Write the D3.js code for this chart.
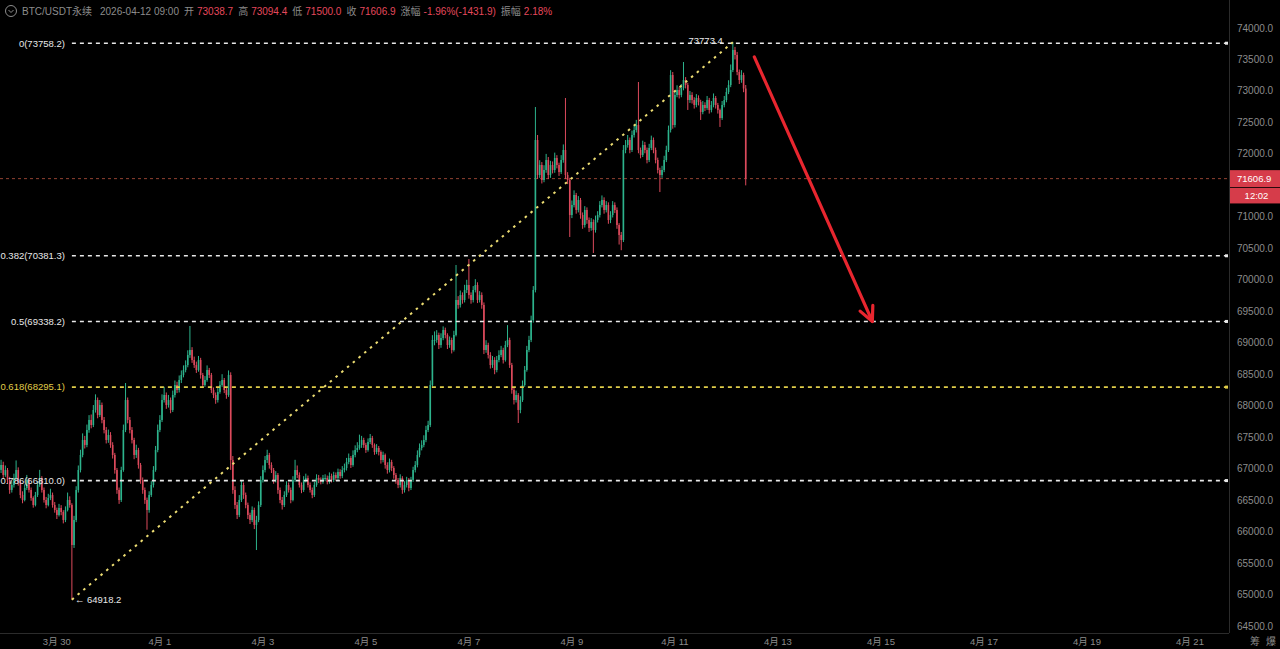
<!DOCTYPE html>
<html lang="zh">
<head>
<meta charset="utf-8">
<title>BTC/USDT永续 1h</title>
<script src="https://cdn.jsdelivr.net/npm/d3@7"></script>
<style>
  html, body { margin: 0; padding: 0; background: #000; }
  svg { display: block; }
  text { font-family: "Liberation Sans", "Noto Sans CJK SC", sans-serif; }
</style>
</head>
<body>
<script>
const W = 1280, H = 649;

// hourly candles, the first one opens 2026-03-28 22:00, open = previous close
const firstCandle = new Date(2026, 2, 28, 22, 0);
const firstOpen = 66980;

const closes = [
  67058,66899,66978,66819,66661,66740,66851,66978,66788,66581,
  66502,66692,66819,66661,66534,66422,66581,66740,66851,66661,
  66502,66422,66534,66581,66422,66343,66264,66375,66311,66184,
  66343,66502,66422,65787,66184,66661,66978,67217,67455,67376,
  67614,67773,67693,67932,68090,67852,68011,67773,67614,67455,
  67534,67376,67217,66978,66661,66502,66978,67614,68090,67773,
  67614,67455,67217,67296,67058,66819,66661,66502,66343,66581,
  66740,66978,67296,67614,67773,68090,68170,68011,68090,67932,
  68170,68329,68249,68408,68488,68567,68646,68805,68885,68726,
  68646,68567,68726,68488,68329,68408,68567,68488,68249,68170,
  68090,68218,68329,68408,68249,68170,68488,67137,66661,66422,
  66264,66502,66740,66581,66422,66264,66184,66343,66105,66184,
  66422,66819,66978,67137,67217,67058,66978,66819,66899,66661,
  66502,66422,66581,66740,66661,66502,66819,66978,66899,66740,
  66661,66819,66851,66740,66661,66581,66740,66851,66819,66788,
  66851,66851,66788,66883,66819,66899,66851,66947,66883,66978,
  67010,67105,67169,67058,67217,67296,67328,67376,67455,67376,
  67296,67423,67487,67376,67264,67328,67264,67137,67217,67058,
  66978,67105,67010,66899,66819,66740,66851,66661,66740,66819,
  66692,66819,66978,67058,67217,67328,67376,67455,67614,67693,
  68329,69044,69044,69123,68964,69075,69202,69123,68964,69044,
  68885,69123,69679,69600,69758,69679,69838,69917,69758,69679,
  69838,69917,69679,69758,69600,68885,68964,68805,68646,68726,
  68567,68726,68805,68885,68726,68964,69044,68646,68249,68090,
  68170,67932,68090,68329,68567,68885,69044,69361,69838,72221,
  71665,71824,71585,71744,71903,71665,71824,71744,71935,71824,
  71712,71903,72062,71665,71585,71029,71188,71347,71109,71268,
  71029,70870,71109,70950,70823,70918,70791,70950,71029,71188,
  71268,71109,71188,70950,71029,71188,71109,70870,70712,70632,
  72062,72141,72221,72062,72300,72380,72459,72062,71983,72141,
  72062,71903,72094,72221,72062,71903,71744,71665,71744,71903,
  72062,72380,73253,72459,72936,73015,72936,73047,73174,73094,
  72856,72936,72856,72777,72888,72824,72666,72777,72729,72856,
  72697,72777,72888,72777,72697,72570,72777,72856,72983,73094,
  73333,73651,73571,73301,73174,73253,73038.7,71606.9
];

const highs = [
  67140,67110,67050,67010,66870,66800,66920,67130,67020,66820,
  66640,66750,66900,66850,66700,66560,66630,66800,66980,66880,
  66700,66550,66600,66680,66620,66470,66380,66440,66420,66340,
  66400,66620,66560,66450,66250,66720,67050,67300,67560,67520,
  67700,67850,67860,68010,68180,68130,68090,68050,67820,67660,
  67620,67580,67420,67250,67010,66700,67030,67700,68360,68130,
  67820,67660,67490,67380,67330,67090,66860,66700,66540,66640,
  66800,67040,67360,67700,67850,68180,68300,68210,68170,68130,
  68240,68400,68380,68480,68560,68640,68720,68880,69266,68930,
  68780,68700,68790,68760,68520,68470,68640,68600,68520,68290,
  68210,68280,68390,68500,68440,68280,68560,68530,67200,66720,
  66470,66580,66810,66780,66620,66460,66300,66400,66380,66250,
  66480,66880,67050,67200,67300,67250,67100,67010,66960,66930,
  66700,66550,66640,66800,66780,66700,66880,67140,67050,66940,
  66780,66880,66920,66890,66780,66700,66790,66910,66900,66860,
  66900,66910,66890,66940,66920,66950,66940,67000,66990,67040,
  67080,67170,67240,67200,67290,67370,67420,67540,67520,67490,
  67410,67480,67550,67520,67400,67390,67360,67290,67270,67240,
  67100,67160,67140,67040,66930,66850,66910,66880,66800,66870,
  66850,66870,67030,67120,67290,67400,67450,67530,67680,67760,
  68400,69120,69180,69200,69160,69150,69260,69240,69150,69100,
  69080,69190,70235,69740,69830,69800,69920,70000,70330,69800,
  69900,70010,69960,69820,69800,69640,69040,69000,68850,68790,
  68770,68790,68880,68950,68920,69030,69280,69080,68680,68290,
  68240,68200,68150,68400,68630,68950,69110,69430,69900,72745,
  72300,71900,71870,71820,72000,71950,71890,71880,72020,71980,
  71860,71980,72150,72888,71710,71620,71260,71420,71380,71330,
  71300,71070,71170,71150,70990,70980,70960,71020,71090,71250,
  71340,71310,71250,71230,71090,71250,71230,71150,70900,70760,
  72140,72220,72300,72260,72370,72450,72540,73142,72100,72210,
  72190,72100,72160,72290,72260,72100,71940,71780,71810,71970,
  72130,72450,73330,73301,73000,73090,73060,73110,73460,73220,
  73130,73000,72980,72900,72950,72930,72860,72840,72820,72920,
  72890,72840,72960,72920,72810,72720,72840,72920,73050,73170,
  73420,73773.4,73700,73620,73340,73330,73290,73094.4
];

const lows = [
  66930,66840,66870,66760,66600,66620,66700,66820,66730,66530,
  66450,66480,66660,66620,66490,66380,66400,66550,66710,66620,
  66460,66370,66400,66500,66380,66300,66200,66240,66260,66130,
  66150,66320,66380,64918.2,65740,66150,66620,66940,67180,67320,
  67340,67570,67640,67660,67890,67800,67820,67720,67560,67400,
  67410,67330,67160,66920,66600,66440,66470,66950,67580,67720,
  67560,67400,67150,67170,67000,66760,66600,66440,66030,66300,
  66550,66700,66950,67260,67580,67740,68050,67950,67970,67880,
  67900,68130,68200,68210,68360,68450,68530,68610,68760,68680,
  68600,68520,68540,68430,68280,68300,68380,68440,68200,68120,
  68030,68050,68190,68300,68200,68110,68140,66980,66600,66360,
  66200,66230,66470,66520,66370,66200,66120,66150,66040,65707,
  66150,66390,66780,66940,67090,67000,66930,66760,66780,66600,
  66450,66350,66390,66550,66620,66450,66480,66790,66850,66700,
  66610,66630,66780,66700,66620,66530,66550,66710,66770,66750,
  66760,66800,66750,66760,66780,66790,66810,66820,66840,66850,
  66940,66970,67070,67010,67030,67180,67260,67300,67330,67330,
  67250,67270,67390,67330,67220,67230,67210,67080,67100,67000,
  66920,66940,66960,66840,66760,66690,66700,66600,66620,66700,
  66640,66660,66790,66940,67020,67180,67290,67340,67420,67580,
  67660,68300,68960,69000,68900,68920,69040,69070,68900,68920,
  68830,68860,69100,69540,69560,69620,69640,69790,69700,69620,
  69640,69800,69630,69640,69540,68820,68840,68750,68590,68600,
  68500,68530,68690,68770,68670,68700,68930,68600,68190,68020,
  68050,67725,67880,68060,68300,68540,68850,69010,69320,69800,
  71600,71620,71530,71550,71700,71600,71620,71690,71700,71770,
  71650,71680,71860,71600,71520,70680,70980,71150,71050,71070,
  70970,70810,70830,70890,70760,70780,70426,70750,70910,70990,
  71150,71050,71070,70890,70900,70990,71060,70810,70560,70470,
  70600,72010,72100,72010,72030,72260,72340,72010,71930,71950,
  72010,71850,71870,72060,72010,71850,71690,71394,71620,71710,
  71870,72030,72340,72400,72420,72900,72880,72900,73010,73040,
  72698,72810,72800,72720,72740,72770,72539,72630,72680,72700,
  72640,72660,72740,72720,72640,72428,72540,72740,72820,72950,
  73060,73300,73500,73250,73110,73130,72980,71500
];

// fibonacci retracement drawn from the swing low (candle 33) to the high
const fibRatios = ["0", "0.382", "0.5", "0.618", "0.786"];
const fibPrices = [73758.2, 70381.3, 69338.2, 68295.1, 66810.0];
const swingLowIdx = 33, swingHighIdx = 341;
const swingLow = 64918.2, swingHigh = 73773.4;

const lastPrice = 71606.9;
const countdown = "12:02";

// annotation arrow: [time, price]
const arrowFrom = [new Date(2026, 3, 12, 13, 0), 73540];
const arrowTo = [new Date(2026, 3, 14, 20, 0), 69338.2];

const yTicks = [64500, 65000, 65500, 66000, 66500, 67000, 67500, 68000, 68500,
                69000, 69500, 70000, 70500, 71000, 71500, 72000, 72500, 73000, 73500, 74000];
const xTickDays = [[3, 30], [4, 1], [4, 3], [4, 5], [4, 7], [4, 9], [4, 11],
                   [4, 13], [4, 15], [4, 17], [4, 19], [4, 21]];

const headerTitle = ["BTC/USDT永续", "2026-04-12 09:00"];
const headerLabels = ["开", "高", "低", "收", "涨幅", "振幅"];
const headerValues = ["73038.7", "73094.4", "71500.0", "71606.9", "-1.96%(-1431.9)", "2.18%"];

const UP = "#2db38c", DOWN = "#dc4a5c", GREY = "#8c8c8c";

const plotRight = 1229, axisY = 633;

const svg = d3.select("body").append("svg")
  .attr("width", W).attr("height", H);
svg.append("rect").attr("width", W).attr("height", H).attr("fill", "#000");

const x = d3.scaleTime()
  .domain([new Date(2026, 2, 28, 21, 30), new Date(2026, 3, 21, 18, 12)])
  .range([0, plotRight]);
const y = d3.scaleLinear().domain([64500, 74000]).range([626, 28]);

const candles = closes.map((c, i) => ({
  t: d3.timeHour.offset(firstCandle, i),
  o: i === 0 ? firstOpen : closes[i - 1],
  c: c, h: highs[i], l: lows[i]
}));

const ly = y(lastPrice);

// axes frame
svg.append("line").attr("x1", plotRight + 0.5).attr("x2", plotRight + 0.5)
  .attr("y1", 0).attr("y2", axisY).attr("stroke", "#2b2b2b");
svg.append("line").attr("x1", 0).attr("x2", plotRight)
  .attr("y1", axisY + 0.5).attr("y2", axisY + 0.5).attr("stroke", "#2b2b2b");

// price labels hidden behind the last-price tag are left out
svg.append("g").selectAll("text")
  .data(yTicks.filter(v => y(v) < ly - 12 || y(v) > ly + 28)).join("text")
  .attr("x", plotRight + 8).attr("y", d => y(d)).attr("dy", "0.35em")
  .attr("fill", GREY).attr("font-size", 10)
  .text(d => d3.format(".1f")(d));

svg.append("g").selectAll("text").data(xTickDays).join("text")
  .attr("x", d => x(new Date(2026, d[0] - 1, d[1])))
  .attr("y", 645).attr("text-anchor", "middle")
  .attr("fill", GREY).attr("font-size", 9.5)
  .text(d => `${d[0]}月 ${d[1]}`);

svg.append("text").attr("x", 1255).attr("y", 645).attr("fill", GREY)
  .attr("font-size", 10).attr("text-anchor", "middle").text("筹");
svg.append("text").attr("x", 1271).attr("y", 645).attr("fill", GREY)
  .attr("font-size", 10).attr("text-anchor", "middle").text("爆");

// last price line
svg.append("line").attr("x1", 0).attr("x2", plotRight)
  .attr("y1", ly).attr("y2", ly)
  .attr("stroke", "#b8533f").attr("stroke-width", 0.8).attr("stroke-dasharray", "3,3");

// candles
const cg = svg.append("g");
cg.selectAll("line").data(candles).join("line")
  .attr("x1", d => x(d.t)).attr("x2", d => x(d.t))
  .attr("y1", d => y(d.h)).attr("y2", d => y(d.l))
  .attr("stroke", d => d.c >= d.o ? UP : DOWN).attr("stroke-width", 1);
cg.selectAll("rect").data(candles).join("rect")
  .attr("x", d => x(d.t) - 0.8).attr("width", 1.6)
  .attr("y", d => y(Math.max(d.o, d.c)))
  .attr("height", d => Math.max(1, Math.abs(y(d.o) - y(d.c))))
  .attr("fill", d => d.c >= d.o ? UP : DOWN);

// fibonacci levels
const fibStart = x(candles[swingLowIdx].t);
const fibColor = (r) => r === "0.618" ? "#e0cd4a" : "#e8e8e8";
const fg = svg.append("g");
fibPrices.forEach((p, i) => {
  const col = fibColor(fibRatios[i]);
  fg.append("line").attr("x1", fibStart).attr("x2", plotRight - 2)
    .attr("y1", y(p)).attr("y2", y(p))
    .attr("stroke", col).attr("stroke-width", 1.6).attr("stroke-dasharray", "4,4");
  fg.append("text").attr("x", fibStart - 7).attr("y", y(p)).attr("dy", "0.35em")
    .attr("text-anchor", "end").attr("fill", col).attr("font-size", 9.5)
    .text(`${fibRatios[i]}(${d3.format(".1f")(p)})`);
  fg.append("rect").attr("x", plotRight - 4).attr("y", y(p) - 1.5)
    .attr("width", 3).attr("height", 3).attr("fill", col);
});

// trend line low -> high
const pLow = [x(candles[swingLowIdx].t), y(swingLow)];
const pHigh = [x(candles[swingHighIdx].t), y(swingHigh)];
svg.append("line").attr("x1", pLow[0]).attr("y1", pLow[1])
  .attr("x2", pHigh[0]).attr("y2", pHigh[1])
  .attr("stroke", "#ecdc72").attr("stroke-width", 2).attr("stroke-dasharray", "2.5,5");

svg.append("text").attr("x", pLow[0] + 3).attr("y", pLow[1]).attr("dy", "0.35em")
  .attr("fill", "#e8e8e8").attr("font-size", 9.5).text("← " + d3.format(".1f")(swingLow));
svg.append("text").attr("x", pHigh[0] - 10).attr("y", pHigh[1] - 2).attr("dy", "0.35em")
  .attr("text-anchor", "end").attr("fill", "#e8e8e8").attr("font-size", 9.5)
  .text(d3.format(".1f")(swingHigh));

// last price tag
svg.append("rect").attr("x", plotRight + 1).attr("y", ly - 8.5)
  .attr("width", W - plotRight).attr("height", 17).attr("fill", "#d63c4a");
svg.append("rect").attr("x", plotRight + 1).attr("y", ly + 9.3)
  .attr("width", W - plotRight).attr("height", 15.5).attr("fill", "#d63c4a");
svg.append("text").attr("x", plotRight + 8).attr("y", ly).attr("dy", "0.33em")
  .attr("fill", "#fff").attr("font-size", 9.5).text(d3.format(".1f")(lastPrice));
svg.append("text").attr("x", (plotRight + W) / 2 + 2).attr("y", ly + 17.5).attr("dy", "0.33em")
  .attr("text-anchor", "middle").attr("fill", "#fff").attr("font-size", 9.5).text(countdown);

// red arrow
const a0 = [x(arrowFrom[0]), y(arrowFrom[1])], a1 = [x(arrowTo[0]), y(arrowTo[1])];
const ang = Math.atan2(a1[1] - a0[1], a1[0] - a0[0]);
const head = 16, spread = 0.45;
const ag = svg.append("g").attr("stroke", "#e8262f").attr("stroke-width", 3.2)
  .attr("stroke-linecap", "round").attr("fill", "none");
ag.append("line").attr("x1", a0[0]).attr("y1", a0[1]).attr("x2", a1[0]).attr("y2", a1[1]);
ag.append("path").attr("d", d3.line()([
  [a1[0] - head * Math.cos(ang - spread), a1[1] - head * Math.sin(ang - spread)],
  a1,
  [a1[0] - head * Math.cos(ang + spread), a1[1] - head * Math.sin(ang + spread)]
])).attr("stroke-linejoin", "round");

// header, laid out left to right
const hg = svg.append("g").attr("font-size", 10);
hg.append("circle").attr("cx", 11).attr("cy", 11).attr("r", 5.5)
  .attr("fill", "none").attr("stroke", GREY).attr("stroke-width", 1);
hg.append("path").attr("d", "M8.5,10 L11,12.5 L13.5,10").attr("fill", "none")
  .attr("stroke", GREY).attr("stroke-width", 1);
let hx = 22;
function put(txt, col, gapAfter) {
  const t = hg.append("text").attr("x", hx).attr("y", 15).attr("fill", col).text(txt);
  hx += t.node().getComputedTextLength() + gapAfter;
}
put(headerTitle[0], GREY, 8);
put(headerTitle[1], GREY, 5);
headerLabels.forEach((l, i) => {
  put(l, GREY, 3);
  put(headerValues[i], "#e5485c", 5);
});
</script>
</body>
</html>
